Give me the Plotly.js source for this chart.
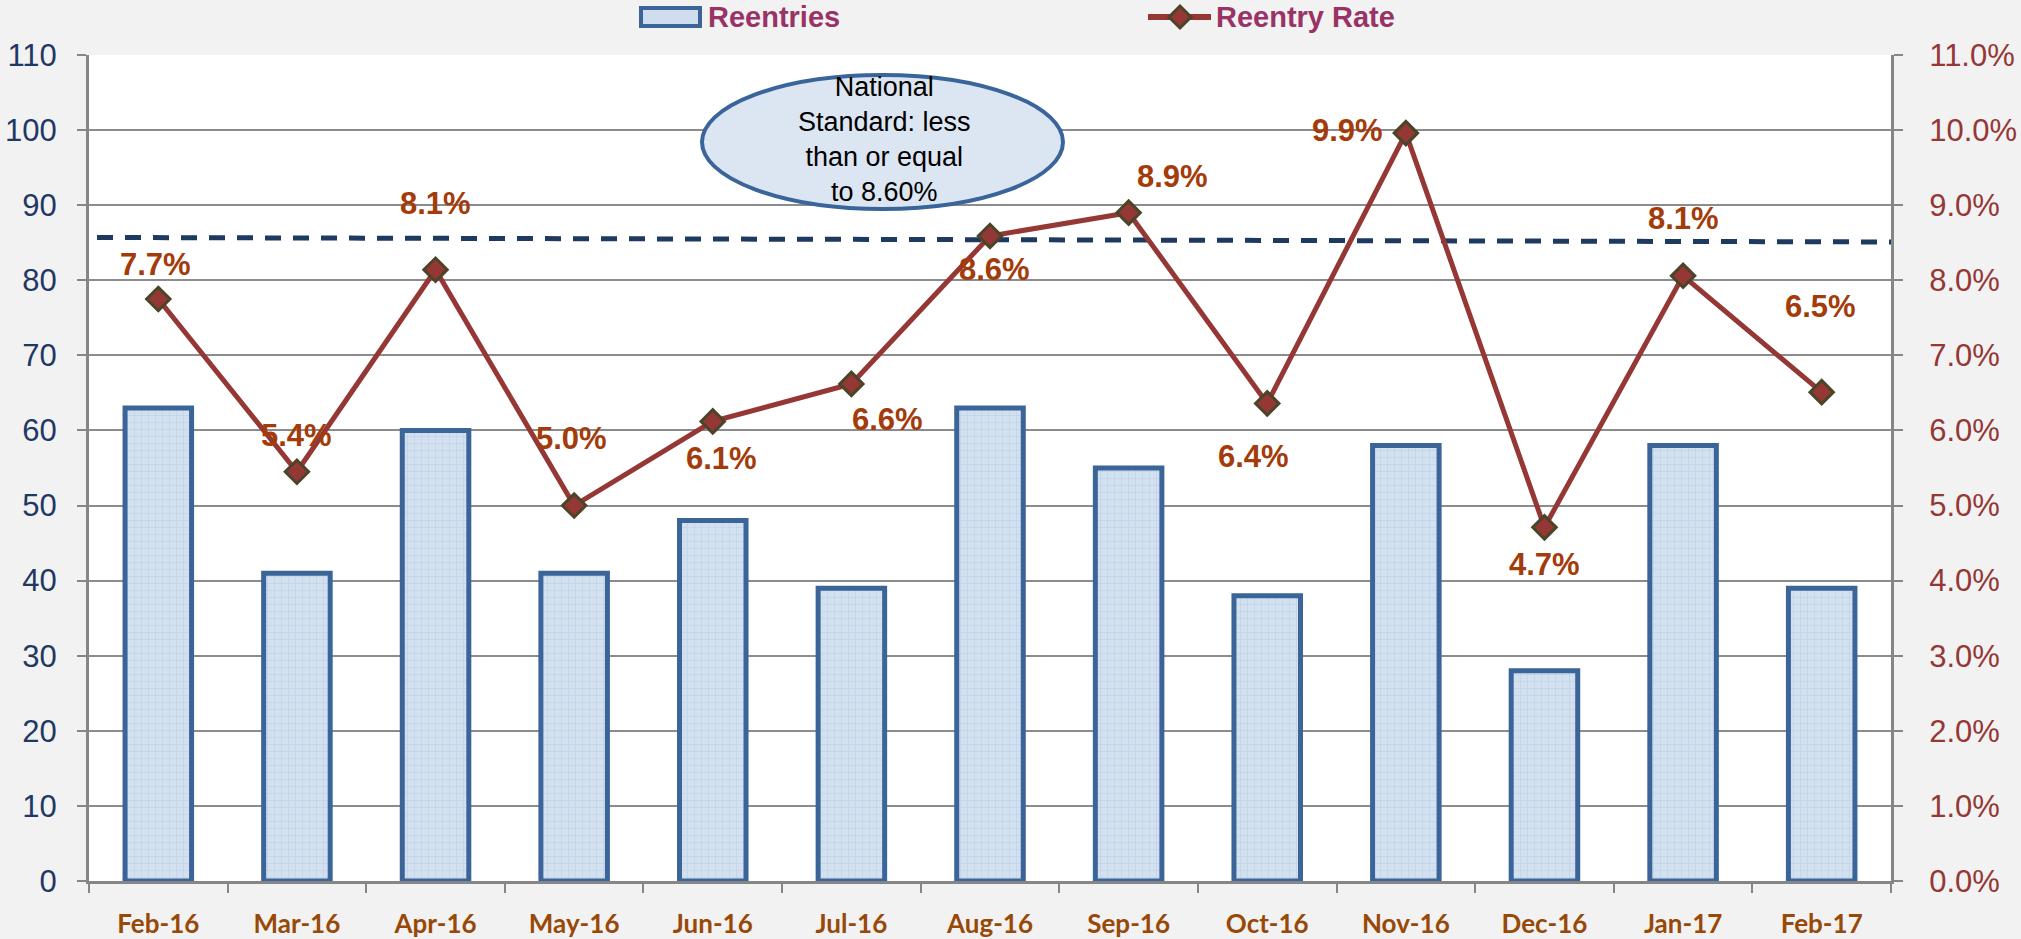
<!DOCTYPE html>
<html>
<head>
<meta charset="utf-8">
<script src="https://cdn.plot.ly/plotly-3.0.1.min.js"></script>
<style>
  html, body { margin: 0; padding: 0; background: #F2F2F2; }
  #chart { width: 2021px; height: 939px; }
</style>
</head>
<body>
<div id="chart"></div>
<script>
// ---- Data ----
const categories = ['Feb-16','Mar-16','Apr-16','May-16','Jun-16','Jul-16','Aug-16','Sep-16','Oct-16','Nov-16','Dec-16','Jan-17','Feb-17'];
const reentries = [63, 41, 60, 41, 48, 39, 63, 55, 38, 58, 28, 58, 39];
const reentryRate = [0.0775, 0.0545, 0.0814, 0.0500, 0.0612, 0.0662, 0.0859, 0.0890, 0.0636, 0.0996, 0.0471, 0.0806, 0.0651];
const rateLabels = ['7.7%','5.4%','8.1%','5.0%','6.1%','6.6%','8.6%','8.9%','6.4%','9.9%','4.7%','8.1%','6.5%'];
const standardStart = 0.0857;
const standardEnd = 0.0851;
const calloutLines = ['National', 'Standard: less', 'than or equal', 'to 8.60%'];
const seriesNames = ['Reentries', 'Reentry Rate'];

// ---- Layout helpers (label placement in pixels) ----
const labelShift = [
  [-3, 35], [0, 36], [0, 66], [-3, 67], [9, -37], [36, -36], [4, -34],
  [44, 36], [-14, -53], [-58, 3], [0, -37], [0, 57], [-1, 86]
];

const W = 2021, H = 939;
const mL = 89, mR = 130, mT = 55, mB = 58;
const pw = W - mL - mR, ph = H - mT - mB;
const px = x => (x - mL) / pw;
const py = y => (H - mB - y) / ph;

const barTrace = {
  type: 'bar',
  x: categories,
  y: reentries,
  name: seriesNames[0],
  width: 0.48,
  marker: {
    color: '#CFDDEF',
    line: { color: '#3B6499', width: 5 },
    pattern: { shape: '+', fgcolor: '#B9CCE4', bgcolor: '#D2E0F0', size: 7, solidity: 0.12 }
  },
  hoverinfo: 'x+y'
};

const lineTrace = {
  type: 'scatter',
  mode: 'lines+markers',
  x: categories,
  y: reentryRate,
  yaxis: 'y2',
  name: seriesNames[1],
  line: { color: '#953735', width: 5 },
  marker: { symbol: 'diamond', size: 18, color: '#953735', line: { color: '#4A4529', width: 3 } }
};

const rateAnnotations = categories.map((c, i) => ({
  x: c, y: reentryRate[i], xref: 'x', yref: 'y2',
  text: rateLabels[i], showarrow: false,
  xshift: labelShift[i][0], yshift: labelShift[i][1],
  font: { family: 'Liberation Sans, Arial, sans-serif', size: 31, color: '#A33B0B', weight: 'bold' }
}));

const calloutAnnotation = {
  x: px(884), y: py(140), xref: 'paper', yref: 'paper',
  text: calloutLines.join('<br>'), showarrow: false, xanchor: 'center', yanchor: 'middle',
  align: 'center',
  font: { family: 'Liberation Sans, Arial, sans-serif', size: 27, color: '#000000' }
};

const legendAnnotations = [
  { x: px(706), y: py(17), xref: 'paper', yref: 'paper', text: seriesNames[0], showarrow: false,
    xanchor: 'left', yanchor: 'middle',
    font: { family: 'Liberation Sans, Arial, sans-serif', size: 29, color: '#993366', weight: 'bold' } },
  { x: px(1214), y: py(17), xref: 'paper', yref: 'paper', text: seriesNames[1], showarrow: false,
    xanchor: 'left', yanchor: 'middle',
    font: { family: 'Liberation Sans, Arial, sans-serif', size: 29, color: '#993366', weight: 'bold' } }
];

const dcx = px(1180), dcy = py(17), ddx = 11 / pw, ddy = 11 / ph;
const shapes = [
  // national standard dashed line
  { type: 'line', xref: 'paper', yref: 'y2', x0: px(97), x1: 1, y0: standardStart, y1: standardEnd,
    line: { color: '#1F3A60', width: 5, dash: '16px,12px' }, layer: 'between' },
  // callout ellipse
  { type: 'circle', xref: 'paper', yref: 'paper', x0: px(702), x1: px(1063), y0: py(209), y1: py(75),
    fillcolor: '#DCE6F2', line: { color: '#3A659B', width: 4 }, layer: 'above' },
  // legend: bar swatch
  { type: 'rect', xref: 'paper', yref: 'paper', x0: px(641), x1: px(700), y0: py(26), y1: py(8),
    fillcolor: '#CFDDEF', line: { color: '#3B6499', width: 4 } },
  // legend: line swatch
  { type: 'line', xref: 'paper', yref: 'paper', x0: px(1148), x1: px(1211), y0: dcy, y1: dcy,
    line: { color: '#953735', width: 6 } },
  { type: 'path', xref: 'paper', yref: 'paper',
    path: `M ${dcx - ddx} ${dcy} L ${dcx} ${dcy + ddy} L ${dcx + ddx} ${dcy} L ${dcx} ${dcy - ddy} Z`,
    fillcolor: '#953735', line: { color: '#4A4529', width: 3 } }
];

const layout = {
  width: W, height: H,
  paper_bgcolor: '#F2F2F2',
  plot_bgcolor: '#FFFFFF',
  margin: { l: mL, r: mR, t: mT, b: mB, pad: 0 },
  showlegend: false,
  bargap: 0.5,
  xaxis: {
    type: 'category',
    showline: true, linecolor: '#868686', linewidth: 3,
    ticks: 'outside', tickson: 'boundaries', ticklen: 9, tickwidth: 2, tickcolor: '#868686',
    tickfont: { family: 'Lato, Arial, sans-serif', size: 26, color: '#984807', weight: 'bold' },
    ticklabelstandoff: 18,
    showgrid: false, zeroline: false,
    range: [-0.5, categories.length - 0.5]
  },
  yaxis: {
    range: [0, 110], dtick: 10, tick0: 0,
    showline: true, linecolor: '#868686', linewidth: 3,
    ticks: 'outside', ticklen: 9, tickwidth: 2, tickcolor: '#868686',
    showgrid: true, gridcolor: '#8C8C8C', gridwidth: 2,
    zeroline: false,
    tickfont: { family: 'Liberation Sans, Arial, sans-serif', size: 31, color: '#1F3864' },
    ticklabelstandoff: 14
  },
  yaxis2: {
    overlaying: 'y', side: 'right',
    range: [0, 0.11], dtick: 0.01, tick0: 0, tickformat: '.1%',
    showline: true, linecolor: '#868686', linewidth: 3,
    ticks: 'outside', ticklen: 9, tickwidth: 2, tickcolor: '#868686',
    showgrid: false, zeroline: false,
    tickfont: { family: 'Liberation Sans, Arial, sans-serif', size: 31, color: '#953735' },
    ticklabelstandoff: 20
  },
  shapes: shapes,
  annotations: rateAnnotations.concat([calloutAnnotation], legendAnnotations)
};

Plotly.newPlot('chart', [barTrace, lineTrace], layout, { displayModeBar: false, staticPlot: true });
</script>
</body>
</html>
